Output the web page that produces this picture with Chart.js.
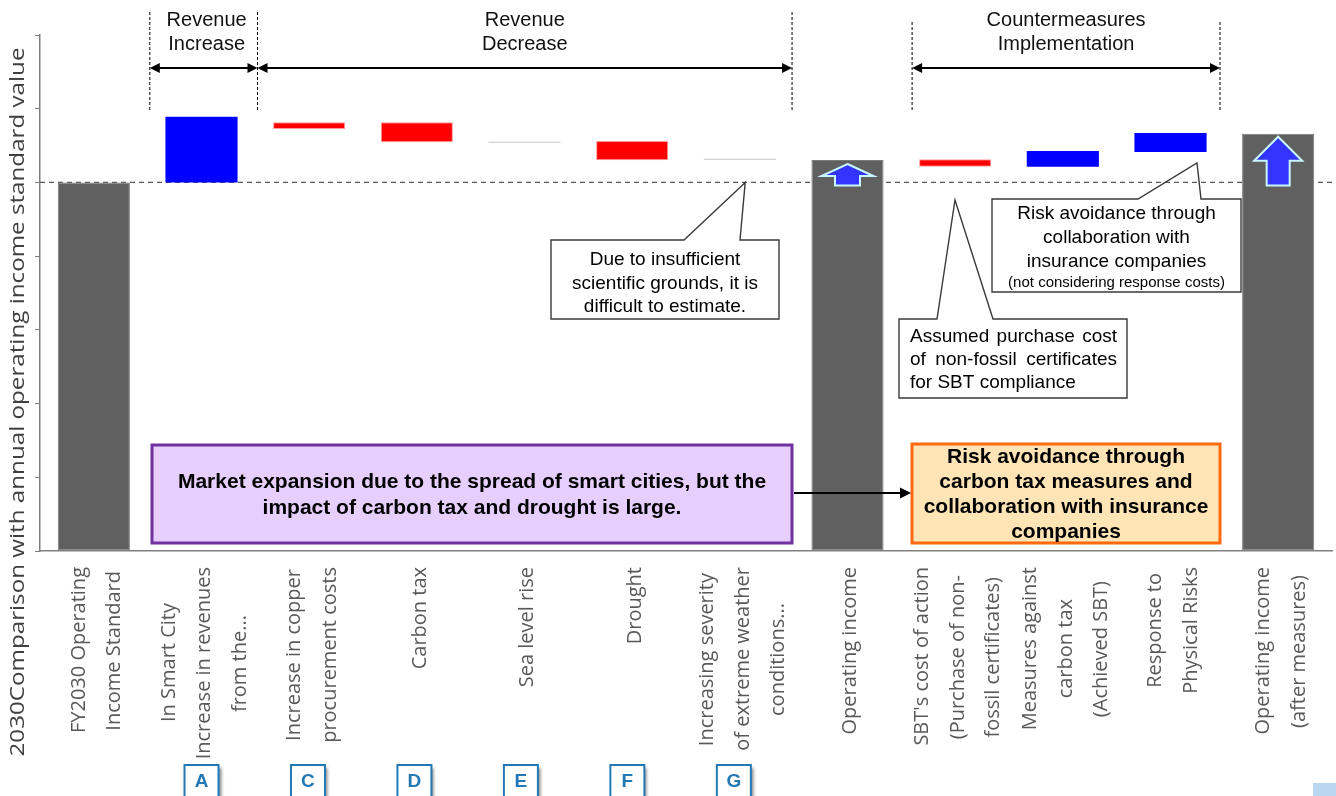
<!DOCTYPE html>
<html><head><meta charset="utf-8">
<script src="https://cdn.jsdelivr.net/npm/chart.js@4.4.1/dist/chart.umd.min.js"></script>
<style>html,body{margin:0;padding:0;background:#fff;}canvas{display:block}</style>
</head><body>
<canvas id="c" width="1336" height="796"></canvas>
<script>
// ---------- data ----------
const categories = [
  ["FY2030 Operating", "Income Standard"],
  ["In Smart City", "Increase in revenues", "from the..."],
  ["Increase in copper", "procurement costs"],
  ["Carbon tax"],
  ["Sea level rise"],
  ["Drought"],
  ["Increasing severity", "of extreme weather", "conditions..."],
  ["Operating income"],
  ["SBT's cost of action", "(Purchase of non-", "fossil certificates)"],
  ["Measures against", "carbon tax", "(Achieved SBT)"],
  ["Response to", "Physical Risks"],
  ["Operating income", "(after measures)"]
];
const barStart = [0, 5.0, 5.725, 5.544, 5.537, 5.300, 5.307, 0, 5.213, 5.213, 5.414, 0];
const barEnd   = [5.0, 5.892, 5.816, 5.816, 5.551, 5.562, 5.321, 5.304, 5.314, 5.426, 5.671, 5.661];
const barKind  = ["total", "increase", "decrease", "decrease", "negligible", "decrease",
                  "negligible", "total", "decrease", "increase", "increase", "total"];
const baselineValue = 5.0;
const yMin = 0, yMax = 7, yStep = 1;
const yTitle = "2030Comparison with annual operating income standard value";
const badgeLetters = ["A", "C", "D", "E", "F", "G"];   // under categories 1..6
const groupTitles = [["Revenue", "Increase"], ["Revenue", "Decrease"], ["Countermeasures", "Implementation"]];
const calloutInsufficient = ["Due to insufficient", "scientific grounds, it is", "difficult to estimate."];
const calloutSBT = ["Assumed purchase cost", "of non-fossil certificates", "for SBT compliance"];
const calloutInsurance = ["Risk avoidance through", "collaboration with", "insurance companies"];
const calloutInsuranceNote = "(not considering response costs)";
const summaryLeft = ["Market expansion due to the spread of smart cities, but the", "impact of carbon tax and drought is large."];
const summaryRight = ["Risk avoidance through", "carbon tax measures and", "collaboration with insurance", "companies"];

// ---------- styles ----------
const kindColor  = {total: "#606060", increase: "#0000ff", decrease: "#ff0000", negligible: "#c6c6c6"};
const kindBorder = {total: "#7a7a7a", increase: "#0000ff", decrease: "#ff9c9c", negligible: "#c6c6c6"};
const TICK_SIZE = 20;
const TICK_FONT = '"Open Sans", "DejaVu Sans", sans-serif';
const ARIAL = '"Liberation Sans", Arial, sans-serif';

// center-align lines of a rotated multi-line label (Chart.js right-aligns them)
const mctx = document.createElement("canvas").getContext("2d");
function formatLabel(lines) {
  mctx.font = TICK_SIZE + "px " + TICK_FONT;
  const widths = lines.map(l => mctx.measureText(l).width);
  const maxW = Math.max(...widths);
  const hair = "\u200A";
  const hw = mctx.measureText(hair).width || 1;
  const n = lines.length;
  const out = [];
  for (let b = 0; b < 3 - n; b++) out.push("");
  lines.forEach((l, k) => {
    const pad = Math.max(0, Math.round((maxW - widths[k]) / 2 / hw));
    out.push(l + hair.repeat(pad));
    if (k < n - 1) out.push("");
  });
  return out;
}

// ---------- drawing helpers ----------
function arrowHead(ctx, x, y, dir, len, half) {
  ctx.beginPath();
  ctx.moveTo(x, y);
  ctx.lineTo(x - dir * len, y - half);
  ctx.lineTo(x - dir * len, y + half);
  ctx.closePath();
  ctx.fill();
}
function dblArrow(ctx, x1, x2, y) {
  ctx.beginPath(); ctx.moveTo(x1 + 6, y); ctx.lineTo(x2 - 6, y); ctx.stroke();
  arrowHead(ctx, x1, y, -1, 10, 5);
  arrowHead(ctx, x2, y, 1, 10, 5);
}
function callout(ctx, box, ptr) {
  ctx.save();
  ctx.fillStyle = "#ffffff";
  ctx.fillRect(box.l, box.t, box.r - box.l, box.b - box.t);
  ctx.strokeStyle = "#3a3a3a"; ctx.lineWidth = 1.4;
  ctx.beginPath();
  ctx.moveTo(box.l, box.t);
  ctx.lineTo(ptr.a, box.t);
  ctx.lineTo(ptr.tx, ptr.ty);
  ctx.lineTo(ptr.b, box.t);
  ctx.lineTo(box.r, box.t);
  ctx.lineTo(box.r, box.b);
  ctx.lineTo(box.l, box.b);
  ctx.closePath();
  ctx.stroke();
  ctx.restore();
}
function justify(ctx, text, x, y, width) {
  const words = text.split(" ");
  const ws = words.map(w => ctx.measureText(w).width);
  const gap = (width - ws.reduce((a, b) => a + b, 0)) / (words.length - 1);
  let cx = x;
  ctx.textAlign = "left";
  words.forEach((w, i) => { ctx.fillText(w, cx, y); cx += ws[i] + gap; });
}

const annot = {
  id: "annot",
  beforeDatasetsDraw(chart) {
    const {ctx, chartArea, scales: {y}} = chart;
    const yb = y.getPixelForValue(baselineValue);
    ctx.save();
    ctx.strokeStyle = "#5a5a5a"; ctx.lineWidth = 1.2; ctx.setLineDash([5, 4]);
    ctx.beginPath(); ctx.moveTo(chartArea.left, yb); ctx.lineTo(chart.width, yb); ctx.stroke();
    ctx.restore();
  },
  afterDatasetsDraw(chart) {
    const {ctx, scales: {y}} = chart;
    const meta = chart.getDatasetMeta(0);
    const yb = y.getPixelForValue(baselineValue);
    const specs = {7: {gap: 4, head: 12, hw: 26, sw: 12.5}, 11: {gap: 3, head: 24, hw: 24, sw: 11.5}};
    ctx.save();
    Object.keys(specs).forEach(k => {
      const el = meta.data[k], s = specs[k];
      const cx = el.x, tip = el.y + s.gap, hb = tip + s.head, bot = yb + 3;
      ctx.beginPath();
      ctx.moveTo(cx, tip);
      ctx.lineTo(cx + s.hw, hb);
      ctx.lineTo(cx + s.sw, hb);
      ctx.lineTo(cx + s.sw, bot);
      ctx.lineTo(cx - s.sw, bot);
      ctx.lineTo(cx - s.sw, hb);
      ctx.lineTo(cx - s.hw, hb);
      ctx.closePath();
      ctx.fillStyle = "#3434ff"; ctx.fill();
      ctx.strokeStyle = "#c8f8ff"; ctx.lineWidth = 2; ctx.stroke();
    });
    ctx.restore();
  },
  afterDraw(chart) {
    const {ctx, scales: {x, y}} = chart;
    const xAt = v => x.getPixelForValue(v);
    ctx.save();

    // y-axis title
    ctx.save();
    ctx.translate(18, 402);
    ctx.rotate(-Math.PI / 2);
    ctx.font = "20px " + TICK_FONT;
    const tw = ctx.measureText(yTitle).width;
    ctx.scale(709 / tw, 1);
    ctx.textAlign = "center"; ctx.textBaseline = "middle"; ctx.fillStyle = "#404040";
    ctx.fillText(yTitle, 0, 0);
    ctx.restore();

    // group brackets at top
    const g = [[xAt(0.52), xAt(1.52)], [xAt(1.52), xAt(6.485)], [xAt(7.6), xAt(10.46)]];
    ctx.strokeStyle = "#000"; ctx.lineWidth = 1; ctx.setLineDash([3, 2]);
    const vx = [[g[0][0], 12], [g[0][1], 12], [g[1][1], 12], [g[2][0], 22], [g[2][1], 22]];
    vx.forEach(([px, t]) => { ctx.beginPath(); ctx.moveTo(px, t); ctx.lineTo(px, 112); ctx.stroke(); });
    ctx.setLineDash([]);
    ctx.lineWidth = 2; ctx.fillStyle = "#000";
    g.forEach(([a, b]) => dblArrow(ctx, a, b, 68));
    ctx.font = "20px " + ARIAL; ctx.textAlign = "center"; ctx.textBaseline = "middle"; ctx.fillStyle = "#111";
    groupTitles.forEach((t, i) => {
      const cx = (g[i][0] + g[i][1]) / 2 + (i === 0 ? 3 : 0);
      ctx.fillText(t[0], cx, 20);
      ctx.fillText(t[1], cx, 44);
    });

    // callout 1
    callout(ctx, {l: 551, t: 240, r: 779, b: 319}, {a: 684, b: 740, tx: xAt(6.05), ty: y.getPixelForValue(baselineValue)});
    ctx.fillStyle = "#000"; ctx.font = "19px " + ARIAL; ctx.textAlign = "center"; ctx.textBaseline = "middle";
    calloutInsufficient.forEach((t, i) => ctx.fillText(t, 665, 260 + i * 23.5));

    // callout 2
    callout(ctx, {l: 899, t: 319, r: 1127, b: 398}, {a: 937, b: 993, tx: 955, ty: 200});
    ctx.font = "19px " + ARIAL; ctx.textBaseline = "middle";
    justify(ctx, calloutSBT[0], 910, 337, 207);
    justify(ctx, calloutSBT[1], 910, 360, 207);
    ctx.textAlign = "left"; ctx.fillText(calloutSBT[2], 910, 383);

    // callout 3
    callout(ctx, {l: 992, t: 199, r: 1241, b: 292}, {a: 1138, b: 1201, tx: 1197, ty: 163});
    ctx.textAlign = "center"; ctx.font = "19px " + ARIAL;
    calloutInsurance.forEach((t, i) => ctx.fillText(t, 1116.5, 214 + i * 24));
    ctx.font = "15px " + ARIAL;
    ctx.fillText(calloutInsuranceNote, 1116.5, 283);

    // summary boxes
    ctx.lineWidth = 3;
    ctx.fillStyle = "#e6cefd"; ctx.fillRect(152, 445, 640, 98);
    ctx.strokeStyle = "#7030a0"; ctx.strokeRect(152, 445, 640, 98);
    ctx.fillStyle = "#ffe4b5"; ctx.fillRect(912, 444, 308, 99);
    ctx.strokeStyle = "#ff6a10"; ctx.strokeRect(912, 444, 308, 99);
    ctx.fillStyle = "#000"; ctx.font = "bold 21px " + ARIAL; ctx.textAlign = "center";
    summaryLeft.forEach((t, i) => ctx.fillText(t, 472, 482 + i * 26));
    summaryRight.forEach((t, i) => ctx.fillText(t, 1066, 457 + i * 25));
    // connector
    ctx.lineWidth = 2; ctx.strokeStyle = "#000";
    ctx.beginPath(); ctx.moveTo(794, 493); ctx.lineTo(902, 493); ctx.stroke();
    arrowHead(ctx, 911, 493, 1, 11, 5.5);

    // badges
    badgeLetters.forEach((L, i) => {
      const idx = i + 1;
      const cx = xAt(idx) - i * 1.2;
      ctx.save();
      ctx.shadowColor = "rgba(0,0,0,0.45)"; ctx.shadowOffsetX = 3; ctx.shadowOffsetY = 3; ctx.shadowBlur = 3;
      ctx.fillStyle = "#fff"; ctx.fillRect(cx - 17, 765, 34, 40);
      ctx.restore();
      ctx.strokeStyle = "#2379b5"; ctx.lineWidth = 2; ctx.strokeRect(cx - 17, 765, 34, 40);
      ctx.fillStyle = "#2379b5"; ctx.font = "bold 19px " + ARIAL; ctx.textAlign = "center";
      ctx.fillText(L, cx, 782);
    });

    // corner mark
    ctx.fillStyle = "#b9d7f1"; ctx.fillRect(1313, 783, 23, 13);
    ctx.restore();
  }
};

new Chart(document.getElementById("c"), {
  type: "bar",
  data: {
    labels: categories,
    datasets: [{
      data: categories.map((_, i) => [barStart[i], barEnd[i]]),
      backgroundColor: barKind.map(k => kindColor[k]),
      borderColor: barKind.map(k => kindBorder[k]),
      borderWidth: barKind.map(k => (k === "decrease" || k === "total") ? 1 : 0),
      borderSkipped: false,
      categoryPercentage: 0.67,
      barPercentage: 1
    }]
  },
  options: {
    responsive: false,
    animation: false,
    devicePixelRatio: 1,
    layout: {padding: {top: 35, right: 4, left: 0, bottom: 0}},
    plugins: {legend: {display: false}, tooltip: {enabled: false}},
    scales: {
      x: {
        grid: {display: false, drawTicks: false},
        border: {display: true, color: "#808080", width: 1.5},
        ticks: {
          autoSkip: false, minRotation: 90, maxRotation: 90, padding: 16, labelOffset: -32.5,
          color: "#595959",
          font: {family: TICK_FONT, size: TICK_SIZE, lineHeight: 17.75 / TICK_SIZE},
          callback: (v, i) => formatLabel(categories[i])
        },
        afterFit: s => { s.height = 245; s.paddingLeft = 0; s.paddingRight = 0; }
      },
      y: {
        min: yMin, max: yMax,
        ticks: {display: false, stepSize: yStep},
        grid: {display: true, drawOnChartArea: false, drawTicks: true, tickLength: 5, color: "#808080"},
        border: {display: true, color: "#808080", width: 1.5},
        afterFit: s => { s.width = 40; s.paddingTop = 0; s.paddingBottom = 0; }
      }
    }
  },
  plugins: [annot]
});
</script>
</body></html>
